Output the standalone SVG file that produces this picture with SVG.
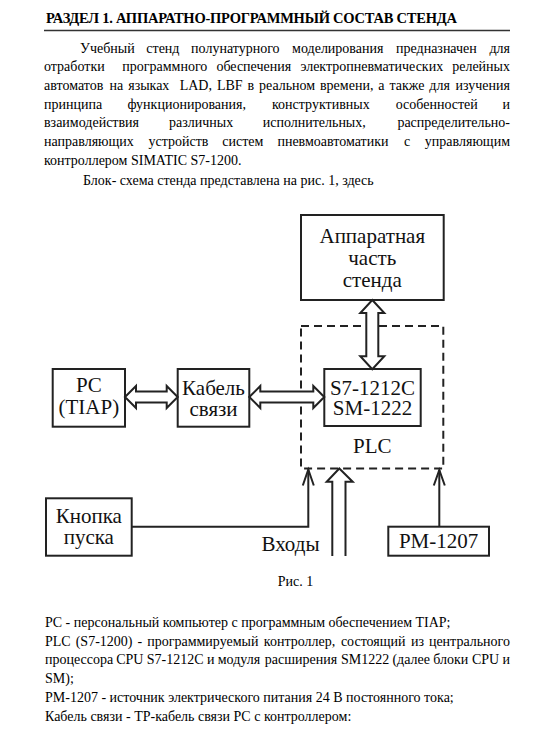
<svg xmlns="http://www.w3.org/2000/svg" width="536" height="732" viewBox="0 0 536 732">
<style>
.t{font-family:"Liberation Serif","Times New Roman",serif;font-size:14px;fill:#000}
.h{font-family:"Liberation Serif","Times New Roman",serif;font-size:14.5px;font-weight:bold;fill:#000}
.d{font-family:"Liberation Serif","Times New Roman",serif;font-size:21px;fill:#111;text-anchor:middle}
.box{fill:#fff;stroke:#222;stroke-width:2}
.dash{fill:none;stroke:#222;stroke-width:2;stroke-dasharray:8 5}
.dbl{fill:#fff;stroke:#222;stroke-width:2;stroke-linejoin:miter}
.ln{fill:none;stroke:#222;stroke-width:2}
.e{text-anchor:end}
</style>
<rect width="536" height="732" fill="#fff"/>

<!-- header -->
<text class="h" x="46" y="23" textLength="411" lengthAdjust="spacing">РАЗДЕЛ 1. АППАРАТНО-ПРОГРАММНЫЙ СОСТАВ СТЕНДА</text>
<line x1="44" y1="30.5" x2="510" y2="30.5" stroke="#333" stroke-width="1.6"/>

<!-- paragraph -->
<text class="t" y="52.5"><tspan x="80">Учебный</tspan><tspan x="146.3">стенд</tspan><tspan x="191.1">полунатурного</tspan><tspan x="292.1">моделирования</tspan><tspan x="396">предназначен</tspan></text>
<text class="t e" x="510" y="52.5">для</text>
<text class="t" y="71.2"><tspan x="44">отработки</tspan><tspan x="122.3">программного</tspan><tspan x="216.4">обеспечения</tspan><tspan x="300.4">электропневматических</tspan></text>
<text class="t e" x="510" y="71.2">релейных</text>
<text class="t" y="89.9"><tspan x="44">автоматов</tspan><tspan x="109.6">на</tspan><tspan x="128.2">языках</tspan><tspan x="179.7">LAD,</tspan><tspan x="216.9">LBF</tspan><tspan x="247.5">в</tspan><tspan x="259">реальном</tspan><tspan x="320">времени,</tspan><tspan x="378.3">а</tspan><tspan x="389.4">также</tspan><tspan x="429.3">для</tspan></text>
<text class="t e" x="510" y="89.9">изучения</text>
<text class="t" y="108.6"><tspan x="44">принципа</tspan><tspan x="127.4">функционирования,</tspan><tspan x="272">конструктивных</tspan><tspan x="395.7">особенностей</tspan></text>
<text class="t e" x="510" y="108.6">и</text>
<text class="t" y="127.3"><tspan x="44">взаимодействия</tspan><tspan x="169.1">различных</tspan><tspan x="262.7">исполнительных,</tspan></text>
<text class="t e" x="510" y="127.3">распределительно-</text>
<text class="t" y="146"><tspan x="44">направляющих</tspan><tspan x="148.5">устройств</tspan><tspan x="222.3">систем</tspan><tspan x="277.4">пневмоавтоматики</tspan><tspan x="404">с</tspan></text>
<text class="t e" x="510" y="146">управляющим</text>
<text class="t" x="44" y="164.7">контроллером SIMATIC S7-1200.</text>
<text class="t" x="83" y="184.5">Блок- схема стенда представлена на рис. 1, здесь</text>

<!-- PLC dashed container -->
<rect id="plc" class="dash" x="301" y="326" width="142.3" height="142.5"/>

<!-- nodes -->
<g id="hw">
<rect class="box" x="301" y="215" width="142.7" height="85"/>
<text class="d" x="372.3" y="243">Аппаратная</text>
<text class="d" x="372.3" y="265">часть</text>
<text class="d" x="372.3" y="287">стенда</text>
</g>
<g id="pc">
<rect class="box" x="52.7" y="369" width="72.3" height="57.7"/>
<text class="d" x="88.8" y="392">PC</text>
<text class="d" x="88.8" y="414">(TIAP)</text>
</g>
<g id="cable">
<rect class="box" x="177.7" y="369" width="71.6" height="57.7"/>
<text class="d" x="213.5" y="395">Кабель</text>
<text class="d" x="213.5" y="416">связи</text>
</g>
<g id="cpu">
<rect class="box" x="324.3" y="369" width="96.4" height="57"/>
<text class="d" x="372.5" y="395">S7-1212C</text>
<text class="d" x="372.5" y="415">SM-1222</text>
</g>
<g id="plc-label">
<text class="d" x="372.3" y="453">PLC</text>
</g>
<g id="button">
<rect class="box" x="46" y="498.3" width="85.7" height="57.4"/>
<text class="d" x="88.8" y="523">Кнопка</text>
<text class="d" x="88.8" y="544">пуска</text>
</g>
<g id="pm">
<rect class="box" x="388.3" y="526.7" width="100.7" height="29"/>
<text class="d" x="438.6" y="547.5">PM-1207</text>
</g>
<g id="inputs-label">
<text class="d" x="290.5" y="550.5">Входы</text>
</g>

<!-- connectors -->
<g id="connectors">
<polygon class="dbl" points="125,397 136,386 136,391.5 166.7,391.5 166.7,386 177.7,397 166.7,408 166.7,402.5 136,402.5 136,408"/>
<polygon class="dbl" points="249.3,397 260.3,386 260.3,391.5 313.3,391.5 313.3,386 324.3,397 313.3,408 313.3,402.5 260.3,402.5 260.3,408"/>
<polygon class="dbl" points="372.3,300 384.3,313 378.3,313 378.3,356.3 384.3,356.3 372.3,369.3 360.3,356.3 366.3,356.3 366.3,313 360.3,313"/>
<polyline class="ln" points="131.7,526.7 308.3,526.7 308.3,469.5"/>
<polyline class="ln" points="302.8,485.5 308.3,469.5 313.8,485.5"/>
<path class="dbl" d="M332.3,556 V481.7 H326.7 L339.3,468.5 L352.7,481.7 H345.5 V556"/>
<line class="ln" x1="439.3" y1="526.7" x2="439.3" y2="470"/>
<polyline class="ln" points="433.8,485.5 439.3,470 444.8,485.5"/>
</g>

<text class="t" x="295.5" y="585.5" text-anchor="middle">Рис. 1</text>

<!-- legend -->
<text class="t" x="45" y="627">PC - персональный компьютер с программным обеспечением TIAP;</text>
<text class="t" y="645.7"><tspan x="45">PLC</tspan><tspan x="75.7">(S7-1200)</tspan><tspan x="137.5">-</tspan><tspan x="147.2">программируемый</tspan><tspan x="263.8">контроллер,</tspan><tspan x="340.9">состоящий</tspan><tspan x="411">из</tspan></text>
<text class="t e" x="510" y="645.7">центрального</text>
<text class="t" y="664.4"><tspan x="45">процессора</tspan><tspan x="116.2">CPU</tspan><tspan x="146.7">S7-1212C</tspan><tspan x="206.9">и</tspan><tspan x="217.7">модуля</tspan><tspan x="264.8">расширения</tspan><tspan x="340.9">SM1222</tspan><tspan x="392.4">(далее</tspan><tspan x="433.2">блоки</tspan><tspan x="472">CPU</tspan></text>
<text class="t e" x="510" y="664.4">и</text>
<text class="t" x="45" y="683.1">SM);</text>
<text class="t" x="45" y="701.8">PM-1207 - источник электрического питания 24 В постоянного тока;</text>
<text class="t" x="45" y="720.5">Кабель связи - TP-кабель связи PC с контроллером:</text>
</svg>
